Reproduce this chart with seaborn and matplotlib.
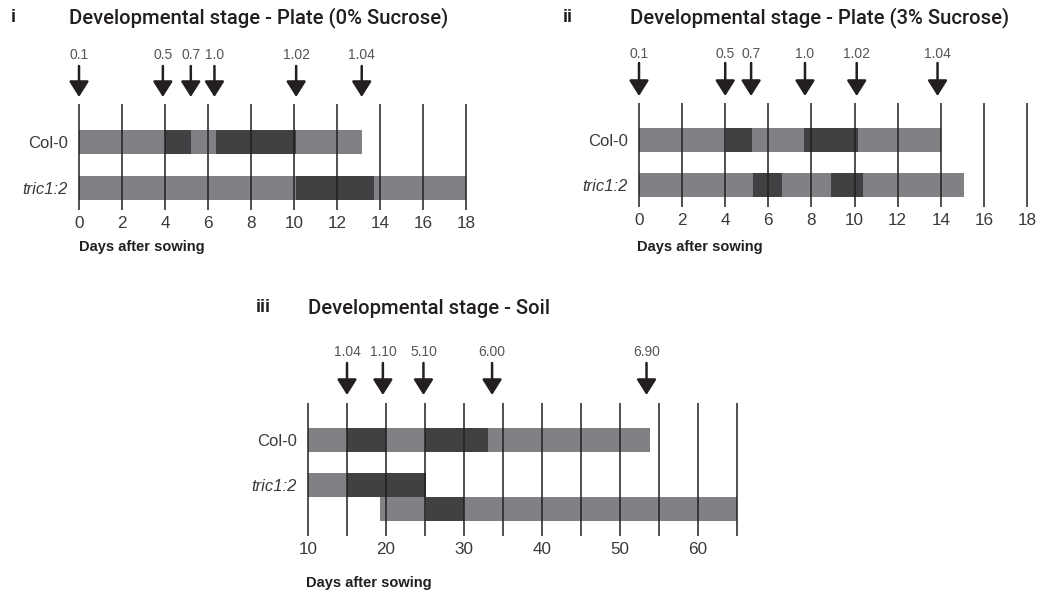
import matplotlib
matplotlib.use("Agg")
import matplotlib.pyplot as plt
import seaborn as sns

# Plate, 0% sucrose
plate0_stage_labels = ['0.1', '0.5', '0.7', '1.0', '1.02', '1.04']
plate0_stage_days = [0, 3.9, 5.2, 6.3, 10.1, 13.15]
plate0_col0_edges = [0, 4.0, 5.2, 6.35, 10.1, 13.15]
plate0_tric_edges = [0, 10.1, 13.7, 18.0]

# Plate, 3% sucrose
plate3_stage_labels = ['0.1', '0.5', '0.7', '1.0', '1.02', '1.04']
plate3_stage_days = [0, 4.0, 5.2, 7.7, 10.1, 13.85]
plate3_col0_edges = [0, 4.05, 5.25, 7.65, 10.15, 14.0]
plate3_tric_edges = [0, 5.3, 6.65, 8.9, 10.4, 15.1]

# Soil
soil_stage_labels = ['1.04', '1.10', '5.10', '6.00', '6.90']
soil_stage_days = [15, 19.6, 24.8, 33.6, 53.4]
soil_col0_edges = [10, 15, 20, 25, 33.1, 53.9]
soil_tric_edges_a = [10, 15, 25.1]
soil_tric_edges_b = [19.2, 25.1, 30, 65]

genotypes = ['Col-0', 'tric1:2']

LIGHT = '#808184'
DARK = '#414143'
INK = '#231f20'
W, H = 1046, 594

sns.set_theme(style="white")
plt.rcParams['font.family'] = ['Liberation Sans', 'DejaVu Sans']

TITLE_FONT = dict(family=['Roboto', 'Liberation Sans'], fontweight='medium',
                  fontsize=14.6, color=INK, va='center')


def fx(x):
    return x / W


def fy(y):
    return 1 - y / H


def make_axes(fig, left, right, top, bottom, x0, x1):
    # axes whose y data units are figure pixels measured from the top
    ax = fig.add_axes([fx(left), fy(bottom), (right - left) / W, (bottom - top) / H])
    ax.set_xlim(x0, x1)
    ax.set_ylim(bottom, top)
    ax.set_facecolor('none')
    sns.despine(ax=ax, left=True, bottom=True)
    return ax


def draw_row(ax, edges, y):
    for i in range(len(edges) - 1):
        color = DARK if i % 2 == 1 else LIGHT
        ax.barh(y, edges[i + 1] - edges[i], left=edges[i], height=24,
                color=color, linewidth=0, zorder=1)


def draw_arrows(ax, days, labels, label_y, tail_y, tip_y):
    for d, lab in zip(days, labels):
        ax.annotate('', xy=(d, tip_y), xytext=(d, tail_y),
                    arrowprops=dict(arrowstyle='-|>,head_length=9.5,head_width=6',
                                    color=INK, lw=1.8, shrinkA=0, shrinkB=0,
                                    mutation_scale=1),
                    annotation_clip=False)
        ax.text(d, label_y, lab, ha='center', va='center', fontsize=10,
                color='#555555', clip_on=False)


def finish_axes(ax, lines, ticks, ylab_pos, top, bottom):
    ax.vlines(lines, bottom, top, color=INK, lw=1.1, zorder=3, clip_on=False)
    ax.set_xticks(ticks)
    ax.tick_params(axis='x', length=0, pad=4, labelsize=12.3, labelcolor='#3a3a3a')
    ax.set_yticks(ylab_pos, genotypes)
    ax.tick_params(axis='y', length=0, pad=8, labelsize=12, labelcolor='#3a3a3a')
    ax.get_yticklabels()[1].set_fontstyle('italic')
    ax.grid(False)


fig = plt.figure(figsize=(W / 100, H / 100), dpi=100)

# panel i
ax1 = make_axes(fig, 79, 466, 104, 210, 0, 18)
draw_row(ax1, plate0_col0_edges, 142)
draw_row(ax1, plate0_tric_edges, 188)
draw_arrows(ax1, plate0_stage_days, plate0_stage_labels, 55, 66, 97)
finish_axes(ax1, list(range(0, 19, 2)), list(range(0, 19, 2)), [142, 188], 104, 210)
fig.text(fx(11), fy(18), 'i', fontsize=13, fontweight='bold', color=INK, va='center')
fig.text(fx(69), fy(18), 'Developmental stage - Plate (0% Sucrose)', **TITLE_FONT)
fig.text(fx(79), fy(247), 'Days after sowing', fontsize=10.5, fontweight='bold',
         color=INK, va='center')

# panel ii
ax2 = make_axes(fig, 639, 1027, 103, 207, 0, 18)
draw_row(ax2, plate3_col0_edges, 140)
draw_row(ax2, plate3_tric_edges, 185)
draw_arrows(ax2, plate3_stage_days, plate3_stage_labels, 54, 63, 96)
finish_axes(ax2, list(range(0, 19, 2)), list(range(0, 19, 2)), [140, 185], 103, 207)
fig.text(fx(563), fy(18), 'ii', fontsize=13, fontweight='bold', color=INK, va='center')
fig.text(fx(630), fy(18), 'Developmental stage - Plate (3% Sucrose)', **TITLE_FONT)
fig.text(fx(637), fy(247), 'Days after sowing', fontsize=10.5, fontweight='bold',
         color=INK, va='center')

# panel iii
ax3 = make_axes(fig, 308, 737, 403, 536, 10, 65)
draw_row(ax3, soil_col0_edges, 440)
draw_row(ax3, soil_tric_edges_a, 485)
draw_row(ax3, soil_tric_edges_b, 509)
draw_arrows(ax3, soil_stage_days, soil_stage_labels, 352, 363, 395)
finish_axes(ax3, list(range(10, 66, 5)), list(range(10, 61, 10)), [440, 485], 403, 536)
fig.text(fx(256), fy(308), 'iii', fontsize=13, fontweight='bold', color=INK, va='center')
fig.text(fx(308), fy(308), 'Developmental stage - Soil', **TITLE_FONT)
fig.text(fx(306), fy(583), 'Days after sowing', fontsize=10.5, fontweight='bold',
         color=INK, va='center')

fig.savefig('out.png', dpi=100)
